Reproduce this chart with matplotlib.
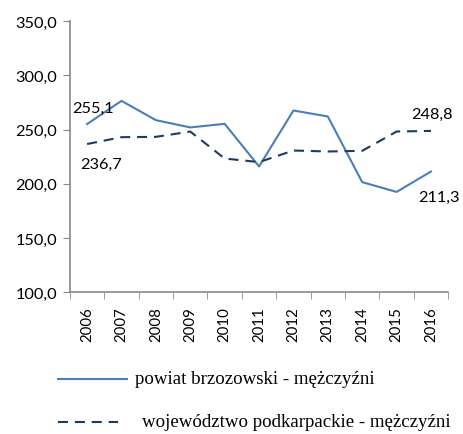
import matplotlib.pyplot as plt
from matplotlib.lines import Line2D

years = ["2006", "2007", "2008", "2009", "2010", "2011",
         "2012", "2013", "2014", "2015", "2016"]
powiat = [255.1, 276.5, 258.7, 252.0, 255.3, 216.0,
          267.6, 262.1, 201.5, 192.5, 211.3]
wojewodztwo = [236.7, 243.0, 243.3, 248.2, 223.3, 220.0,
               230.7, 229.8, 230.4, 248.2, 248.8]
yticks = [100, 150, 200, 250, 300, 350]

label_powiat = "powiat brzozowski - mężczyźni"
label_woj = "województwo podkarpackie - mężczyźni"

blue = "#4a7ebb"
navy = "#1f3a60"
axis_grey = "#888888"
dash = (4.8, 3.3)

W, H = 463, 435
fig = plt.figure(figsize=(W / 100, H / 100), dpi=100)
ax = fig.add_axes([0.151, 0.326, 0.817, 0.623])

x = list(range(len(years)))
ax.plot(x, powiat, color=blue, lw=1.5)
ax.plot(x, wojewodztwo, color=navy, lw=1.5, dashes=dash)

# values printed only at the ends of each series
fs = 11.8
fam = "Lato"
def fmt(v):
    return f"{v:.1f}".replace(".", ",")

ax.annotate(fmt(powiat[0]), (x[0], powiat[0]), xytext=(-11, 9),
            textcoords="offset points", fontsize=fs, family=fam)
ax.annotate(fmt(wojewodztwo[0]), (x[0], wojewodztwo[0]), xytext=(-5, -17),
            textcoords="offset points", fontsize=fs, family=fam)
ax.annotate(fmt(wojewodztwo[-1]), (x[-1], wojewodztwo[-1]), xytext=(-14, 9),
            textcoords="offset points", fontsize=fs, family=fam)
ax.annotate(fmt(powiat[-1]), (x[-1], powiat[-1]), xytext=(-9, -21),
            textcoords="offset points", fontsize=fs, family=fam)

ax.set_xlim(-0.5, len(years) - 0.5)
ax.set_ylim(100, 350)
ax.set_yticks(yticks)
ax.set_yticklabels([fmt(v) for v in yticks], fontsize=fs, family=fam)

# category labels centred, tick marks on the boundaries
ax.set_xticks(x)
ax.set_xticklabels(years, rotation=90, fontsize=10.8, family=fam)
ax.tick_params(axis="x", which="major", length=0, pad=10)
ax.set_xticks([i - 0.5 for i in range(len(years) + 1)], minor=True)
ax.tick_params(axis="x", which="minor", length=5, color=axis_grey,
               direction="out")
ax.tick_params(axis="y", length=5, color=axis_grey, pad=4)

for side in ["top", "right"]:
    ax.spines[side].set_visible(False)
for side in ["left", "bottom"]:
    ax.spines[side].set_color(axis_grey)
    ax.spines[side].set_linewidth(1.2)

# legend rows below the plot, laid out in pixels
rows = [(label_powiat, blue, None, 58, 127, 135, 380),
        (label_woj, navy, dash, 58, 118, 142, 423)]
for text, color, ds, x0, x1, tx, y in rows:
    ln = Line2D([x0 / W, x1 / W], [1 - y / H, 1 - y / H], color=color,
                lw=1.5, transform=fig.transFigure)
    if ds:
        ln.set_dashes(ds)
    fig.add_artist(ln)
    fig.text(tx / W, 1 - y / H, text, va="center", ha="left",
             family="Liberation Serif", fontsize=13.6)

fig.savefig("out.png", dpi=100)
